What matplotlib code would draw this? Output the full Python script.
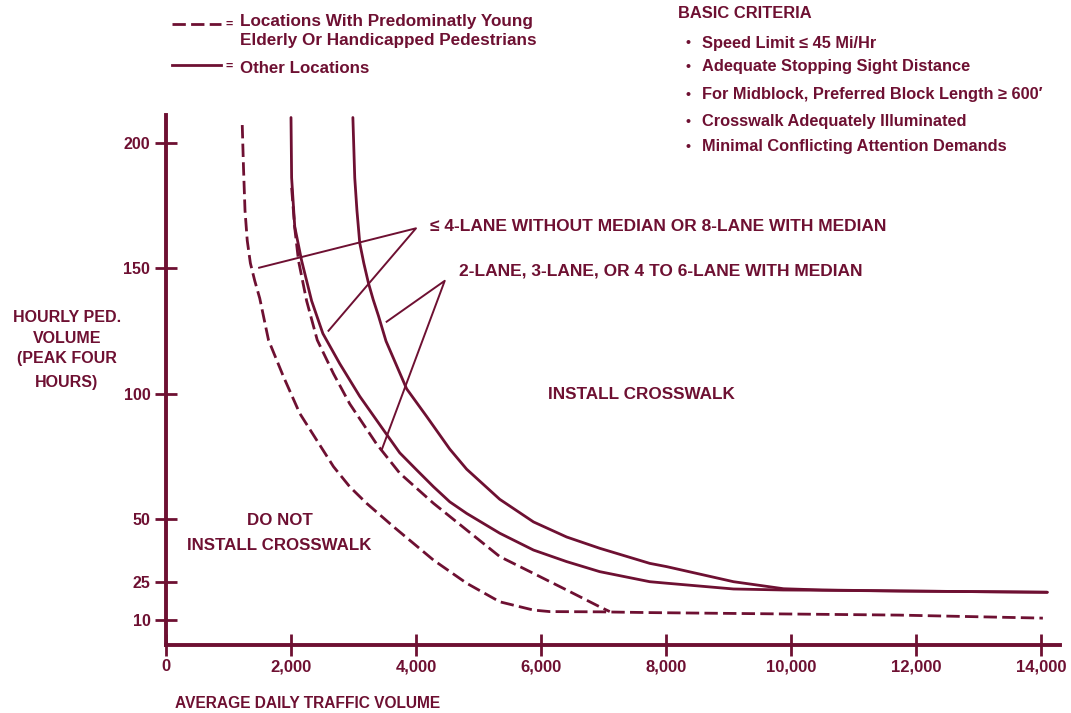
"""
Crosswalk installation guideline chart: hourly ped volume vs ADT.
Saves out.png
"""

import matplotlib
matplotlib.use("Agg")
import matplotlib.pyplot as plt
from matplotlib.lines import Line2D

INK = "#6e1032"
plt.rcParams["font.family"] = ["Liberation Sans", "DejaVu Sans"]
plt.rcParams["font.weight"] = "bold"

W, H = 1071, 713

# curves (x = ADT, y = hourly ped volume)
# solid, 4-lane without median / 8-lane with median
solid_outer_x = [2990, 3020, 3055, 3100, 3165, 3240, 3315, 3400, 3520, 3850, 4170, 4540, 4810,
                 5340, 5880, 6410, 6940, 7740, 8010, 9080, 9880, 10500, 11740, 14100]
solid_outer_y = [210, 186, 173, 160, 152, 144, 137.5, 131, 121, 102, 91, 78, 70,
                 58, 49, 43, 38.5, 32.5, 31.2, 25.2, 22.4, 21.9, 21.5, 21.0]
# solid, 2-lane / 3-lane / 4-6 lane with median
solid_inner_x = [2000, 2010, 2060, 2170, 2330, 2510, 2780, 3100, 3480, 3740, 4010, 4280,
                 4540, 4810, 5340, 5880, 6410, 6940, 7740, 8010, 9080, 9880, 10500, 11740, 14100]
solid_inner_y = [210, 186, 166.5, 153, 137, 124, 112, 99, 85.6, 76.5, 69.7, 63.0,
                 57.0, 52.4, 44.5, 37.8, 33.2, 29.2, 25.2, 24.6, 22.3, 21.9, 21.8, 21.5, 21.0]
# dashed, outer left curve
dashed_left_x = [1220, 1240, 1264, 1300, 1350, 1420, 1500, 1640, 1880, 2140, 2410, 2680, 2940,
                 3210, 3640, 4280, 4810, 5340, 5880, 6140, 6940, 7740, 11740, 14030]
dashed_left_y = [207, 190, 173, 161, 152, 145, 138, 121.4, 106.8, 92.2, 81.6, 71, 63,
                 56.4, 47.1, 33.8, 24.6, 17.2, 13.9, 13.3, 13.2, 12.9, 11.9, 10.7]
# dashed, next to the inner solid curve
dashed_mid_x = [2010, 2060, 2120, 2250, 2420, 2680, 2940, 3370, 3740, 4280, 4810, 5340,
                5880, 6410, 6940, 7100]
dashed_mid_y = [182, 166, 153, 137, 121.4, 108, 96, 80, 68.4, 56.4, 45.8, 35.2,
                28.5, 21.9, 15.2, 13.3]

# leader lines from the curve labels
lead_wo_median_x = [1490, 4000, 2600]
lead_wo_median_y = [150.2, 165.9, 125.1]
lead_w_median_x = [3530, 4460, 3450]
lead_w_median_y = [128.7, 145.0, 77.6]

x_ticks = [0, 2000, 4000, 6000, 8000, 10000, 12000, 14000]
x_tick_labels = ["0", "2,000", "4,000", "6,000", "8,000", "10,000", "12,000", "14,000"]
y_ticks = [10, 25, 50, 100, 150, 200]
y_tick_labels = ["10", "25", "50", "100", "150", "200"]

criteria = [
    "Speed Limit \u2264 45 Mi/Hr",
    "Adequate Stopping Sight Distance",
    "For Midblock, Preferred Block Length \u2265 600\u2032",
    "Crosswalk Adequately Illuminated",
    "Minimal Conflicting Attention Demands",
]
criteria_py = [43.3, 66.7, 95, 121.7, 146.7]


def fx(px):
    return px / W


def fy(py):
    return 1 - py / H


fig = plt.figure(figsize=(W / 100, H / 100), dpi=100)
fig.patch.set_facecolor("white")
ax = fig.add_axes([166 / W, 68 / H, 893.75 / W, 530 / H])
ax.set_xlim(0, 14300)
ax.set_ylim(0, 211)

dash = (4.8, 1.9)
curve_kw = dict(color=INK, lw=2.0, solid_joinstyle="round", solid_capstyle="round")
ax.plot(solid_outer_x, solid_outer_y, **curve_kw)
ax.plot(solid_inner_x, solid_inner_y, **curve_kw)
ax.plot(dashed_left_x, dashed_left_y, color=INK, lw=2.0, dashes=dash, dash_joinstyle="round")
ax.plot(dashed_mid_x, dashed_mid_y, color=INK, lw=2.0, dashes=dash, dash_joinstyle="round")
ax.plot(lead_wo_median_x, lead_wo_median_y, color=INK, lw=1.4)
ax.plot(lead_w_median_x, lead_w_median_y, color=INK, lw=1.4)

for side in ("top", "right"):
    ax.spines[side].set_visible(False)
for side in ("left", "bottom"):
    ax.spines[side].set_linewidth(2.8)
    ax.spines[side].set_color(INK)

ax.set_xticks(x_ticks)
ax.set_xticklabels(x_tick_labels)
ax.set_yticks(y_ticks)
ax.set_yticklabels(y_tick_labels)
ax.tick_params(direction="inout", length=16.5, width=2, color=INK,
               labelcolor=INK, pad=2)
ax.tick_params(axis="x", labelsize=12)
ax.tick_params(axis="y", labelsize=11.5, pad=3)

# region / curve labels
ax.text(4224, 166.8, "\u2264 4-LANE WITHOUT MEDIAN OR 8-LANE WITH MEDIAN",
        ha="left", va="center", fontsize=12.5, color=INK)
ax.text(4688, 148.9, "2-LANE, 3-LANE, OR 4 TO 6-LANE WITH MEDIAN",
        ha="left", va="center", fontsize=12.5, color=INK)
ax.text(7608, 99.9, "INSTALL CROSSWALK", ha="center", va="center", fontsize=12.3, color=INK)
ax.text(1816, 49.4, "DO NOT", ha="center", va="center", fontsize=12.2, color=INK)
ax.text(1816, 39.8, "INSTALL CROSSWALK", ha="center", va="center", fontsize=12.2, color=INK)

# axis titles
for txt, py in [("HOURLY PED.", 318), ("VOLUME", 338), ("(PEAK FOUR", 358), ("HOURS)", 382)]:
    fig.text(fx(67), fy(py), txt, ha="center", va="center", fontsize=11.5, color=INK)
fig.text(fx(175), fy(703), "AVERAGE DAILY TRAFFIC VOLUME", ha="left", va="center",
         fontsize=11.2, color=INK)

# legend block
fig.add_artist(Line2D([fx(172), fx(221)], [fy(24), fy(24)], transform=fig.transFigure,
                      color=INK, lw=2.0, dashes=dash))
fig.add_artist(Line2D([fx(172), fx(221)], [fy(65), fy(65)], transform=fig.transFigure,
                      color=INK, lw=2.0))
fig.text(fx(229), fy(25), "=", ha="center", va="center", fontsize=9, color=INK)
fig.text(fx(229), fy(67), "=", ha="center", va="center", fontsize=9, color=INK)
fig.text(fx(240), fy(21.5), "Locations With Predominatly Young", ha="left", va="center",
         fontsize=12.3, color=INK)
fig.text(fx(240), fy(40), "Elderly Or Handicapped Pedestrians", ha="left", va="center",
         fontsize=12.3, color=INK)
fig.text(fx(240), fy(68.5), "Other Locations", ha="left", va="center", fontsize=12.2, color=INK)

# basic criteria block
fig.text(fx(678), fy(13.5), "BASIC CRITERIA", ha="left", va="center", fontsize=11.9, color=INK)
for txt, py in zip(criteria, criteria_py):
    fig.text(fx(688), fy(py), "\u2022", ha="center", va="center", fontsize=10, color=INK)
    fig.text(fx(702), fy(py), txt, ha="left", va="center", fontsize=11.8, color=INK)

plt.savefig("out.png", dpi=100, facecolor="white")
plt.close(fig)
